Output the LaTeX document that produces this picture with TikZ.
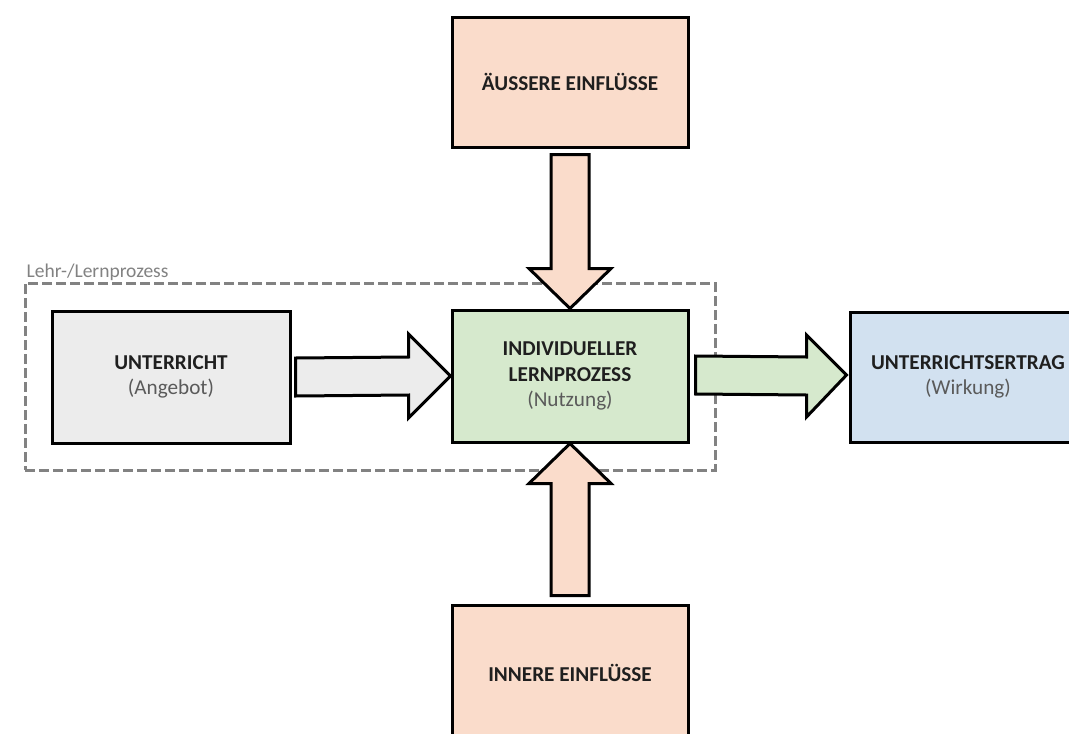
\documentclass[tikz,border=0pt]{standalone}
\usepackage{fontspec}
\setmainfont{Carlito}
\usetikzlibrary{calc,fit}
\definecolor{peach}{RGB}{250,220,203}
\definecolor{mint}{RGB}{214,233,205}
\definecolor{lgray}{RGB}{236,236,236}
\definecolor{lblue}{RGB}{210,225,240}
\definecolor{subtxt}{RGB}{90,90,90}
\definecolor{dashgray}{RGB}{130,130,130}
\newcommand\subt[1]{{\mdseries\color{subtxt}#1}}
\tikzset{
  box/.style={draw=black, line width=3pt, minimum width=236pt, minimum height=130pt,
    align=center, inner sep=0pt, text=black!88,
    font=\fontsize{21.2}{25.5}\selectfont\bfseries},
  barrow/.style={draw=black, line width=3pt, line join=miter},
  grpbox/.style={draw=dashgray, line width=3pt, dash pattern=on 10pt off 4pt, inner sep=25.5pt},
  grplabel/.style={text=dashgray, font=\fontsize{19.5}{22}\selectfont, inner sep=1pt}
}
\begin{document}
\begin{tikzpicture}[x=1pt,y=-1pt]
\useasboundingbox (0,0) rectangle (1069,734);
\fill[white] (0,0) rectangle (1069,734);
\clip (0,0) rectangle (1069,734);

\node[box, fill=peach] (aus) at (570,82) {ÄUSSERE EINFLÜSSE};
\node[box, fill=mint, minimum height=132pt] (lern) at (570,376) {INDIVIDUELLER\\LERNPROZESS\\\subt{(Nutzung)}};
\node[box, fill=peach, minimum height=136pt] (inn) at (570,673) {INNERE EINFLÜSSE};
\node[box, fill=lgray, minimum width=238pt, minimum height=132pt] (unt) at (171,377) {UNTERRICHT\\\subt{(Angebot)}};
\node[box, fill=lblue] (ertrag) at (968,377) {UNTERRICHTSERTRAG\\\subt{(Wirkung)}};

\node[grpbox, fit=(unt)(lern),
  label={[grplabel, anchor=south west, xshift=2pt]north west:Lehr-/Lernprozess}] (grp) {};

% down arrow: aus -> lern
\draw[barrow, fill=peach] ($(aus.south)+(-19,6)$) -- ($(lern.north)+(-19,-40)$)
  -- ($(lern.north)+(-41,-40)$) -- (lern.north) -- ($(lern.north)+(41,-40)$)
  -- ($(lern.north)+(19,-40)$) -- ($(aus.south)+(19,6)$) -- cycle;
% up arrow: inn -> lern
\draw[barrow, fill=peach] ($(inn.north)+(-19,-8)$) -- ($(lern.south)+(-19,40)$)
  -- ($(lern.south)+(-41,40)$) -- (lern.south) -- ($(lern.south)+(41,40)$)
  -- ($(lern.south)+(19,40)$) -- ($(inn.north)+(19,-8)$) -- cycle;
% right arrow: unt -> lern
\draw[barrow, fill=lgray] ($(unt.east)+(4,-19)$) -- ($(lern.west)+(-42,-19)$)
  -- ($(lern.west)+(-42,-42)$) -- (lern.west) -- ($(lern.west)+(-42,42)$)
  -- ($(lern.west)+(-42,19)$) -- ($(unt.east)+(4,19)$) -- cycle;
% right arrow: lern -> ertrag
\draw[barrow, fill=mint] ($(lern.east)+(6,-20)$) -- ($(ertrag.west)+(-42,-20)$)
  -- ($(ertrag.west)+(-42,-42)$) -- ($(ertrag.west)+(-2,-2)$) -- ($(ertrag.west)+(-42,40)$)
  -- ($(ertrag.west)+(-42,18)$) -- ($(lern.east)+(6,18)$) -- cycle;
\end{tikzpicture}
\end{document}
